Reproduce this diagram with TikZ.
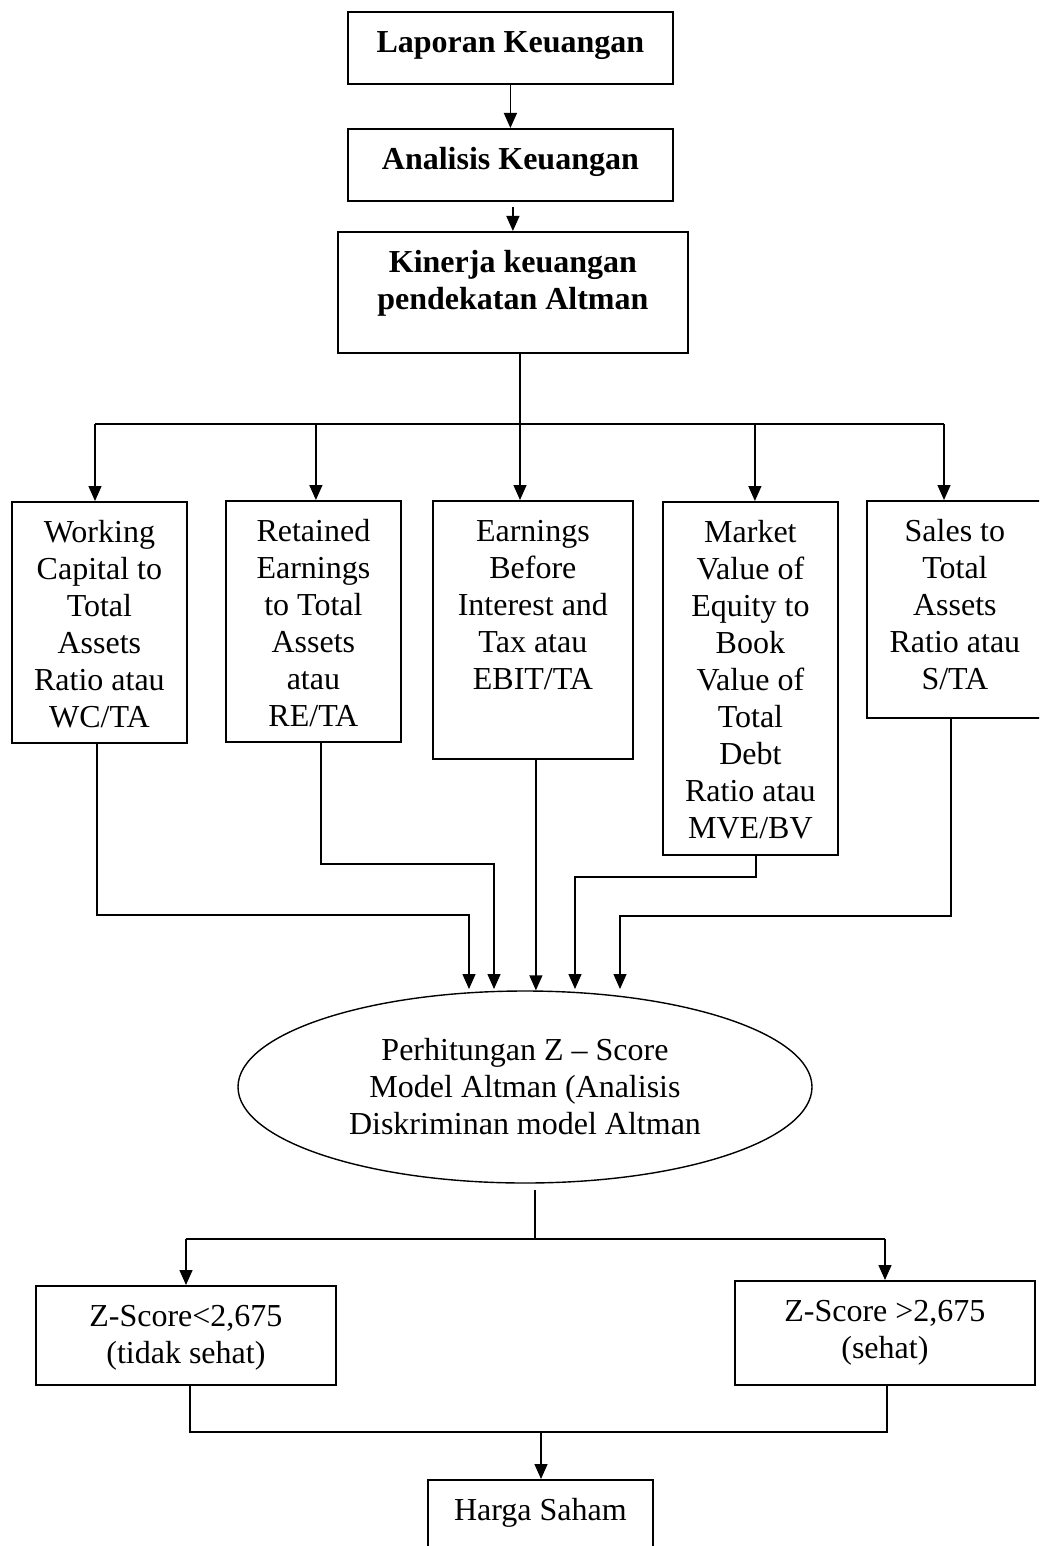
\documentclass[tikz,border=0pt]{standalone}
\usepackage{fontspec}
\setmainfont{Liberation Serif}
\usetikzlibrary{arrows.meta,shapes.geometric}
\newcommand{\tb}[3]{\parbox[c][#2][t]{#1}{\fontsize{32}{37}\selectfont\centering\vspace*{15pt}\strut #3\par}}
\begin{document}
\begin{tikzpicture}[x=1pt,y=-1pt,
  bx/.style={draw, line width=1.8pt, inner sep=0pt, anchor=north west},
  ln/.style={line width=1.4pt},
  arr/.style={line width=1.4pt, -{Triangle[length=15pt,width=13pt]}},
]
\useasboundingbox (0,0) rectangle (1039,1546);
\clip (0,0) rectangle (1039,1546);

% top chain
\node[bx] (lap) at (347,11) {\tb{325pt}{72pt}{\bfseries Laporan Keuangan}};
\node[bx] (ana) at (347,128) {\tb{325pt}{72pt}{\bfseries Analisis Keuangan}};
\node[bx] (kin) at (337,231) {\tb{350pt}{121pt}{\bfseries Kinerja keuangan\\pendekatan Altman}};

% five ratio boxes
\node[bx] (b1) at (11,501) {\tb{175pt}{241pt}{Working\\Capital to\\Total\\Assets\\Ratio atau\\WC/TA}};
\node[bx] (b2) at (225,500) {\tb{175pt}{241pt}{Retained\\Earnings\\to Total\\Assets\\atau\\RE/TA}};
\node[bx] (b3) at (432,500) {\tb{200pt}{258pt}{Earnings\\Before\\Interest and\\Tax atau\\EBIT/TA}};
\node[bx] (b4) at (662,501) {\tb{175pt}{353pt}{Market\\Value of\\Equity to\\Book\\Value of\\Total\\Debt\\Ratio atau\\MVE/BV}};
\node[bx] (b5) at (866,500) {\tb{176pt}{217pt}{Sales to\\Total\\Assets\\Ratio atau\\S/TA}};

% ellipse
\node[draw, ellipse, line width=1.4pt, minimum width=574pt, minimum height=192pt,
      inner sep=0pt, align=center, font=\fontsize{32}{37}\selectfont] (ell) at (525,1087)
      {Perhitungan Z – Score\\Model Altman (Analisis\\Diskriminan model Altman};

% results
\node[bx] (zl) at (35,1285) {\tb{300pt}{99pt}{Z-Score<2,675\\(tidak sehat)}};
\node[bx] (zr) at (734,1280) {\tb{300pt}{104pt}{Z-Score >2,675\\(sehat)}};
\node[bx] (hs) at (427,1479) {\tb{225pt}{80pt}{Harga Saham}};

% connectors top
\draw[arr] (lap) -- (ana);
\draw[arr] ([yshift=-5pt]ana.south -| kin.north) -- (kin.north);
\coordinate (sp) at (520,424);
\coordinate (hl) at (95,424);
\coordinate (hr) at (944,424);
\draw[ln] (kin.south -| sp) -- (sp);
\draw[ln] (hl) -- (hr);
\draw[arr] (hl) -- (hl |- b1.north);
\draw[arr] ([xshift=2.5pt]b2.north |- sp) -- ([xshift=2.5pt]b2.north);
\draw[arr] (sp) -- (sp |- b3.north);
\draw[arr] ([xshift=4.5pt]b4.north |- sp) -- ([xshift=4.5pt]b4.north);
\draw[arr] (hr) -- (hr |- b5.north);

% connectors into ellipse
\coordinate (et) at (0,989);
\coordinate (j1) at (469,915);
\coordinate (j2) at (494,864);
\coordinate (j4) at (575,877);
\coordinate (j5) at (620,916);
\draw[arr] ([xshift=-2.5pt]b1.south) |- (j1) -- (j1 |- et);
\draw[arr] ([xshift=7.5pt]b2.south) |- (j2) -- (j2 |- et);
\draw[arr] ([xshift=3pt]b3.south) -- ([xshift=3pt]b3.south |- ell.north);
\draw[arr] ([xshift=5.5pt]b4.south) |- (j4) -- (j4 |- et);
\draw[arr] ([xshift=-4pt]b5.south) |- (j5) -- (j5 |- et);

% connectors below ellipse
\coordinate (s2) at (535,1239);
\coordinate (hl2) at (186,1239);
\coordinate (hr2) at (885,1239);
\draw[ln] ([xshift=10pt,yshift=-6pt]ell.south) -- (s2);
\draw[ln] (hl2) -- (hr2);
\draw[arr] (hl2) -- (hl2 |- zl.north);
\draw[arr] (hr2) -- (hr2 |- zr.north);
\coordinate (m) at (541,1432);
\draw[ln] ([xshift=4pt]zl.south) |- ([xshift=2pt]zr.south |- m) -- ([xshift=2pt]zr.south);
\draw[arr] (m) -- (m |- hs.north);
\end{tikzpicture}
\end{document}
